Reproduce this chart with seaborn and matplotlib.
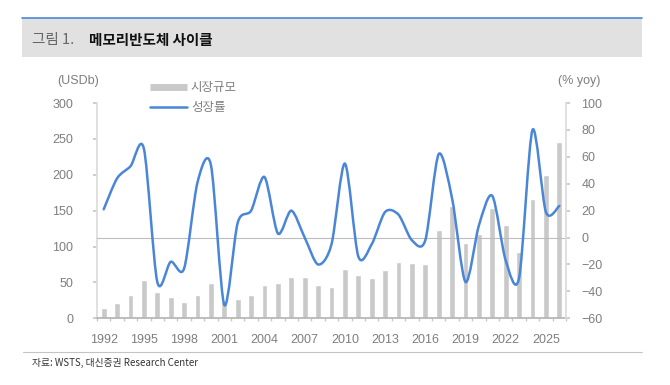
import numpy as np
import matplotlib
matplotlib.use("Agg")
import matplotlib.pyplot as plt
import seaborn as sns
import pandas as pd
from matplotlib.path import Path
from matplotlib.patches import PathPatch, Rectangle
from matplotlib.lines import Line2D

sns.set_theme(style="white")
plt.rcParams["font.family"] = ["Liberation Sans", "Noto Sans CJK KR", "DejaVu Sans"]

years = list(range(1992, 2027))
market = [15, 21, 32, 53, 36, 30, 23, 32, 49, 24, 27, 32, 47, 49, 58, 57, 46, 44,
          68.5, 60, 56.5, 67, 78, 77, 76, 123, 157, 105.5, 117, 154, 130, 92, 166, 199, 245]
growth = [21, 44, 53, 66, -33, -18, -23, 41, 54, -50, 11, 20, 45, 3, 20, 0, -20, -5,
          55, -14, -5, 19, 17, -2, -2, 62, 29, -33, 9, 31, -17, -30, 80, 19, 23.5]
tick_years = list(range(1992, 2027, 3))

BAR = "#c9c9c9"
LINE = "#4a86d8"
TXT = "#7f7f7f"

df = pd.DataFrame({"year": [str(y) for y in years], "market": market})

fig = plt.figure(figsize=(6.7, 3.85), dpi=100)
W, H = 670, 385

# title band
fig.patches.append(Rectangle((22 / W, 1 - 57 / H), 620 / W, 39 / H, transform=fig.transFigure,
                             facecolor="#e1e1e1", edgecolor="none", zorder=0))
fig.add_artist(Line2D([22 / W, 642 / W], [1 - 18 / H, 1 - 18 / H], color=LINE, lw=1.2))
fig.text(32 / W, 1 - 40 / H, "그림 1.", fontsize=10.5, color="#666666", va="center",
         family=["Noto Sans CJK KR", "DejaVu Sans"])
fig.text(89 / W, 1 - 40 / H, "메모리반도체 사이클", fontsize=10.5, color="#111111", va="center",
         fontweight="bold", family=["Noto Sans CJK KR", "DejaVu Sans"])

ax = fig.add_axes([97 / W, 1 - 318.3 / H, 469 / W, 215.3 / H])
sns.barplot(data=df, x="year", y="market", color=BAR, width=0.43, ax=ax, zorder=2)
ax.set_xlim(-0.5, len(years) - 0.5)
ax.set_ylim(0, 300)
ax.set_yticks(range(0, 301, 50))
ax.set_xticks([years.index(y) for y in tick_years])
ax.set_xticklabels([str(y) for y in tick_years])
ax.set_xticks(np.arange(-0.5, len(years), 1), minor=True)
ax.set_xlabel("")
ax.set_ylabel("")

ax2 = ax.twinx()
ax2.set_ylim(-60, 100)
ax2.set_yticks(range(-60, 101, 20))
ax2.set_yticklabels([f"{v:d}".replace("-", "\u2212") for v in range(-60, 101, 20)])
ax2.axhline(0, color="#bdbdbd", lw=0.8, zorder=1)

# smoothed growth line through the yearly points
pts = np.column_stack([np.arange(len(years)), growth]).astype(float)
verts = [pts[0]]
codes = [Path.MOVETO]
n = len(pts)
k = 1 / 7
for i in range(n - 1):
    p0 = pts[i - 1] if i > 0 else pts[i]
    p1, p2 = pts[i], pts[i + 1]
    p3 = pts[i + 2] if i + 2 < n else pts[i + 1]
    verts += [p1 + (p2 - p0) * k, p2 - (p3 - p1) * k, p2]
    codes += [Path.CURVE4] * 3
ax2.add_patch(PathPatch(Path(verts, codes), facecolor="none", edgecolor=LINE, lw=1.8,
                        capstyle="round", joinstyle="round", zorder=3))

for a in (ax, ax2):
    for s in a.spines.values():
        s.set_visible(False)
    a.tick_params(labelsize=9, labelcolor=TXT, color="#c8c8c8")
    a.grid(False)
ax.spines["left"].set_visible(True)
ax.spines["left"].set_color("#dcdcdc")
ax.spines["bottom"].set_visible(True)
ax.spines["bottom"].set_color("#b5b5b5")
ax2.spines["right"].set_visible(True)
ax2.spines["right"].set_color("#dcdcdc")
ax.tick_params(axis="y", left=True, length=3, pad=14)
ax2.tick_params(axis="y", right=True, length=3, pad=8)
ax.tick_params(axis="x", which="major", bottom=False, pad=5)
ax.tick_params(axis="x", which="minor", bottom=True, length=2.5, color="#c8c8c8")

fig.text(57 / W, 1 - 81 / H, "(USDb)", fontsize=9, color=TXT, va="center")
fig.text(558 / W, 1 - 81 / H, "(% yoy)", fontsize=9, color=TXT, va="center")

handles = [Line2D([], [], color=BAR, lw=5, solid_capstyle="butt"),
           Line2D([], [], color=LINE, lw=1.8)]
leg = fig.legend(handles, ["시장규모", "성장률"], loc="upper left",
                 bbox_to_anchor=(139 / W, 1 - 70 / H), frameon=False, fontsize=9,
                 handlelength=2.9, handletextpad=0.35, labelspacing=0.55,
                 prop={"family": ["Noto Sans CJK KR", "DejaVu Sans"], "size": 9})
for t in leg.get_texts():
    t.set_color(TXT)

# source line
fig.add_artist(Line2D([23 / W, 642 / W], [1 - 352 / H, 1 - 352 / H], color="#c4c4c4", lw=0.8))
fig.text(32 / W, 1 - 363 / H, "자료: WSTS, 대신증권 Research Center", fontsize=7, color="#333333",
         va="center", family=["Noto Sans CJK KR", "DejaVu Sans"])

fig.savefig("out.png", dpi=100)
